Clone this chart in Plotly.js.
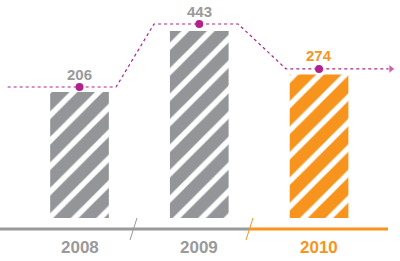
<!DOCTYPE html>
<html><head><meta charset="utf-8">
<script src="https://cdn.plot.ly/plotly-3.0.1.min.js"></script>
<style>html,body{margin:0;padding:0;background:#fff}#c{width:400px;height:261px}</style>
</head><body><div id="c"></div>
<script>
const years = ['2008', '2009', '2010'];
const values = [206, 443, 274];
const barColors = ['#939598', '#939598', '#F7941D'];
const textColors = ['#9a9a9a', '#9a9a9a', '#F7941D'];
// step line path (x positions in category units, y in values)
const lineX = [-0.6, 0.305, 0.622, 1.324, 1.724, 2.6];
const lineY = [206, 206, 443, 443, 274, 274];

const xPos = years.map((_, i) => i);
const GRAY = '#999a9c', ORANGE = '#F7941D', MAG = '#b0238c';

const traces = [{
  type: 'bar', x: xPos, y: values.map(v => v + 283.5), base: -283.5, width: 0.49,
  marker: {color: barColors, line: {width: 0},
    pattern: {shape: '/', fillmode: 'replace', size: 18, solidity: 0.7}},
  hoverinfo: 'skip'
}, {
  type: 'scatter', mode: 'lines+markers', x: lineX, y: lineY, yaxis: 'y2',
  line: {color: MAG, width: 1.2, dash: 'dot'},
  marker: {symbol: lineX.map((_, i) => i === lineX.length - 1 ? 'triangle-right' : 'circle'),
           size: lineX.map((_, i) => i === lineX.length - 1 ? 8 : 0), color: MAG},
  hoverinfo: 'skip'
}, {
  type: 'scatter', mode: 'markers', x: xPos, y: values, yaxis: 'y2',
  marker: {color: MAG, size: 8}, hoverinfo: 'skip'
}];

const annotations = [];
years.forEach((yr, i) => {
  annotations.push({x: i, y: values[i], xref: 'x', yref: 'y2', text: String(values[i]), showarrow: false,
    yanchor: 'middle', yshift: 13, font: {family: 'Liberation Sans, Arial, sans-serif', size: 15, color: textColors[i], weight: 'bold'}});
  annotations.push({x: i, y: (218 - 247) / 218, xref: 'x', yref: 'paper', text: yr, showarrow: false,
    yanchor: 'middle', font: {family: 'Liberation Sans, Arial, sans-serif', size: 17, color: textColors[i], weight: 'bold'}});
});

const px = p => p / 400, py = p => (218 - p) / 218;
const shapes = [
  {type: 'line', xref: 'paper', yref: 'paper', x0: px(0), x1: px(249), y0: py(229), y1: py(229), line: {color: GRAY, width: 3}},
  {type: 'line', xref: 'paper', yref: 'paper', x0: px(249), x1: px(388), y0: py(229), y1: py(229), line: {color: ORANGE, width: 3}},
  {type: 'line', xref: 'paper', yref: 'paper', x0: px(137), x1: px(130), y0: py(218), y1: py(240), line: {color: GRAY, width: 1}},
  {type: 'line', xref: 'paper', yref: 'paper', x0: px(253), x1: px(246), y0: py(218), y1: py(240), line: {color: ORANGE, width: 1}}
];

const layout = {
  width: 400, height: 261, margin: {l: 0, r: 0, t: 0, b: 43},
  paper_bgcolor: '#fff', plot_bgcolor: '#fff', showlegend: false,
  xaxis: {range: [-0.664, 2.676], visible: false, fixedrange: true},
  yaxis: {range: [-283.5, 563.5], visible: false, fixedrange: true},
  yaxis2: {range: [-286.8, 533.3], overlaying: 'y', visible: false, fixedrange: true},
  annotations, shapes
};
Plotly.newPlot('c', traces, layout, {staticPlot: true, displayModeBar: false});
</script></body></html>
